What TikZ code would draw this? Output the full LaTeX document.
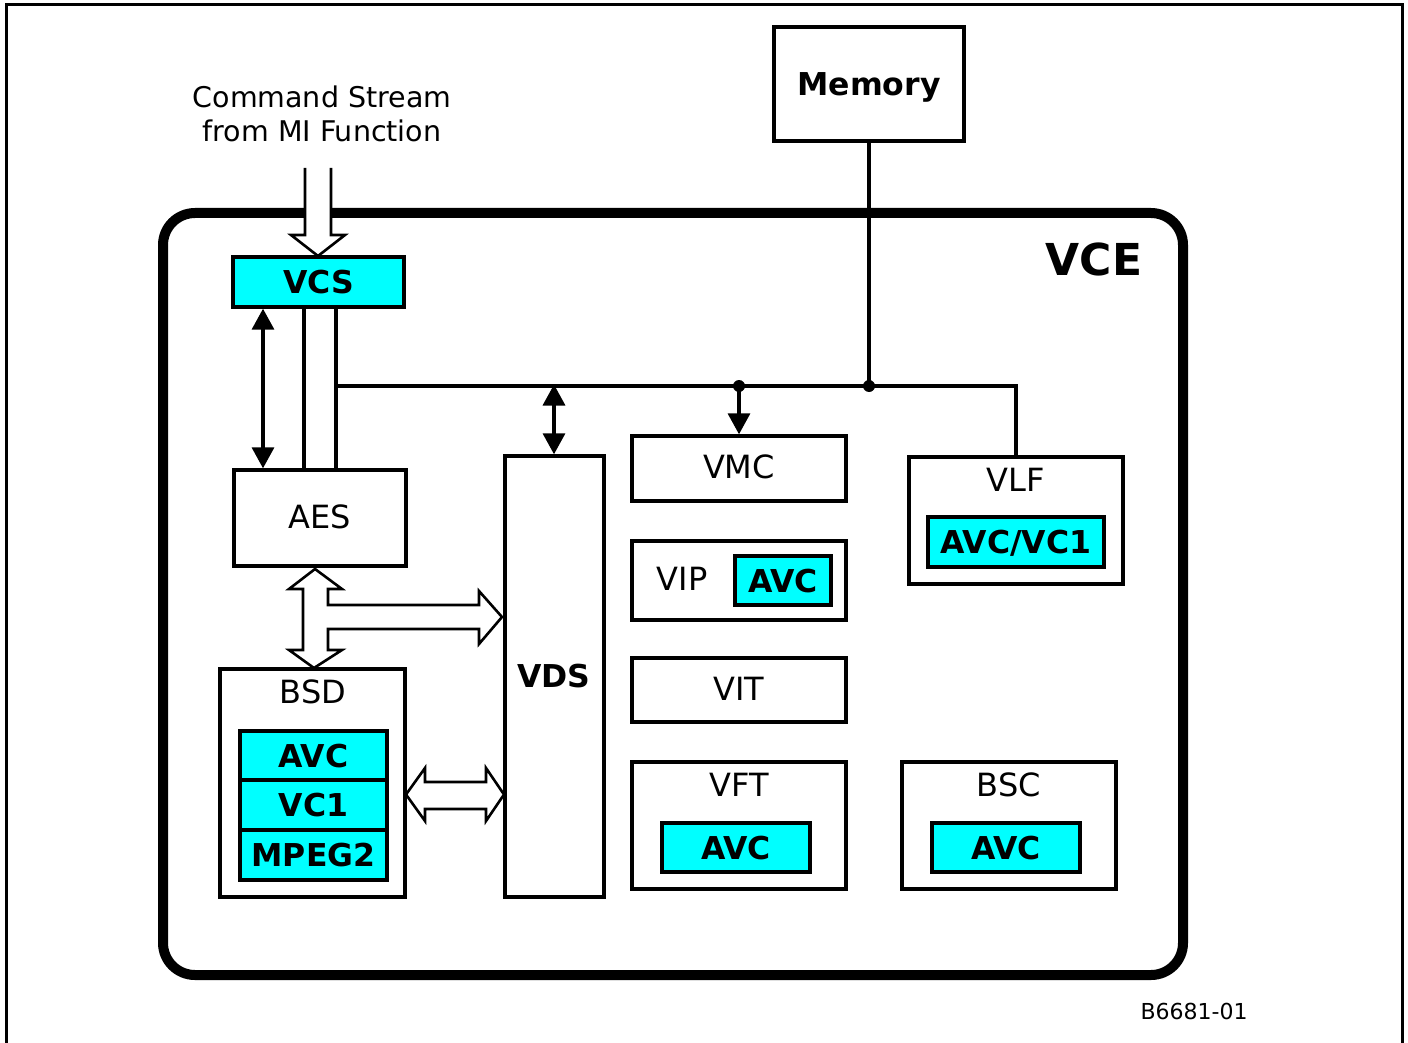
\documentclass[tikz,border=0pt]{standalone}
\usepackage{fontspec}
\setmainfont{DejaVu Sans}
\usetikzlibrary{arrows.meta}
\definecolor{vcyan}{RGB}{0,255,255}
\begin{document}
\begin{tikzpicture}[x=1pt,y=-1pt,
  box/.style={draw,line width=3.4pt,inner sep=0pt,fill=white},
  cybox/.style={box,fill=vcyan,font=\fontsize{31.5}{36}\selectfont\bfseries,text height=23pt,text depth=0pt},
  lbl/.style={font=\fontsize{32}{36}\selectfont,inner sep=0pt,text height=23.3pt,text depth=0pt},
  blbl/.style={font=\fontsize{31.5}{36}\selectfont\bfseries,inner sep=0pt,text height=23pt,text depth=0pt},
  conn/.style={line width=3.4pt},
  dbl/.style={conn,{Triangle[width=22pt,length=21pt]}-{Triangle[width=22pt,length=21pt]}},
  onearrow/.style={conn,-{Triangle[width=22pt,length=21pt]}},
  hollow/.style={line width=2.6pt,fill=white,line join=miter}
]
\useasboundingbox (0,0) rectangle (1408,1043);
% outer frame
\draw[line width=3pt] (6,1043) -- (6,5) -- (1402,5) -- (1402,1043);
% VCE container
\draw[line width=10pt,rounded corners=32pt] (163,213) rectangle (1183,975);
\node[font=\fontsize{44}{50}\selectfont\bfseries,inner sep=0pt,text height=32pt,text depth=0pt] (vce) at (1094,259) {VCE};

% command stream
\node[font=\fontsize{28.5}{34}\selectfont,inner sep=0pt,anchor=base] (cmd1) at (322,107.5) {Command Stream};
\node[font=\fontsize{28.5}{34}\selectfont,inner sep=0pt,anchor=base] (cmd2) at (322,141.5) {from MI Function};

% memory
\node[box,minimum width=190pt,minimum height=114pt,font=\fontsize{31.5}{36}\selectfont\bfseries,text height=23pt,text depth=0pt] (mem) at (869,84) {Memory};

% boxes
\node[cybox,minimum width=171pt,minimum height=50pt] (vcs) at (318.5,282) {VCS};
\node[box,minimum width=172pt,minimum height=96pt] (aes) at (320,518) {};
\node[lbl] (aeslbl) at (320,517) {AES};
\node[box,minimum width=99pt,minimum height=441pt] (vds) at (554.5,676.5) {};
\node[blbl] (vdslbl) at (554,676) {VDS};
\node[box,minimum width=214pt,minimum height=65pt] (vmc) at (739,468.5) {};
\node[lbl] (vmclbl) at (739,467) {VMC};
\node[box,minimum width=214pt,minimum height=79pt] (vip) at (739,580.5) {};
\node[lbl] (viplbl) at (682,579) {VIP};
\node[cybox,minimum width=96pt,minimum height=49pt] (vipavc) at (783,580.5) {AVC};
\node[box,minimum width=214pt,minimum height=64pt] (vit) at (739,690) {};
\node[lbl] (vitlbl) at (739,689) {VIT};
\node[box,minimum width=214pt,minimum height=127pt] (vft) at (739,825.5) {};
\node[lbl] (vftlbl) at (739,785) {VFT};
\node[cybox,minimum width=148pt,minimum height=49pt] (vftavc) at (736,847.5) {AVC};
\node[box,minimum width=214pt,minimum height=127pt] (bsc) at (1009,825.5) {};
\node[lbl] (bsclbl) at (1009,785) {BSC};
\node[cybox,minimum width=148pt,minimum height=49pt] (bscavc) at (1006,847.5) {AVC};
\node[box,minimum width=214pt,minimum height=127pt] (vlf) at (1016,520.5) {};
\node[lbl] (vlflbl) at (1016,480) {VLF};
\node[cybox,minimum width=176pt,minimum height=50pt] (vlfavc) at (1016,542) {AVC/VC1};
\node[box,minimum width=185pt,minimum height=228pt] (bsd) at (312.5,783) {};
\node[lbl] (bsdlbl) at (313,692) {BSD};
\node[cybox,minimum width=147pt,minimum height=49pt] (bsdavc) at (313.5,755.5) {AVC};
\node[cybox,minimum width=147pt,minimum height=50pt] (bsdvc1) at (313.5,805) {VC1};
\node[cybox,minimum width=147pt,minimum height=50pt] (bsdmpeg) at (313.5,855) {MPEG2};

% incoming hollow arrow
\fill[white] (305,168) -- (305,235) -- (291,235) -- (318,256) -- (345,235) -- (331,235) -- (331,168) -- cycle;
\draw[line width=2.6pt,line join=miter] (305,168) -- (305,235) -- (291,235) -- (318,256) -- (345,235) -- (331,235) -- (331,168);

% coordinates
\coordinate (xa) at (304,0);
\coordinate (xb) at (336,0);
\coordinate (xc) at (263,0);
\coordinate (jL) at (336,386);
\coordinate (jvds) at (554,386);
\coordinate (jvmc) at (739,386);
\coordinate (jmem) at (869,386);
\coordinate (jvlf) at (1016,386);

% connectors
\draw[conn] (vcs.south -| xa) -- (aes.north -| xa);
\draw[conn] (vcs.south -| xb) -- (aes.north -| xb);
\draw[conn] (jL) -- (jvlf) -- (vlf.north);
\draw[conn] (mem.south) -- (jmem);
\fill (jmem) circle (6pt);
\fill (jvmc) circle (6pt);
\draw[onearrow] (jvmc) -- (vmc.north);
\draw[dbl] ([yshift=1.5pt]jvds) -- (vds.north -| jvds);
\draw[dbl] (vcs.south -| xc) -- (aes.north -| xc);

% hollow T arrow AES <-> BSD -> VDS
\draw[hollow] (315,569) -- (342,589) -- (328,589) -- (328,605) -- (479,605) -- (479,591) -- (502,617) -- (479,644) -- (479,629) -- (328,629) -- (328,650) -- (342,650) -- (314,668) -- (289,650) -- (303,650) -- (303,589) -- (289,589) -- cycle;
% hollow double arrow BSD <-> VDS
\draw[hollow] (406,794.5) -- (425,768) -- (425,782) -- (486,782) -- (486,768) -- (504,794.5) -- (486,821) -- (486,809) -- (425,809) -- (425,821) -- cycle;

% figure id
\node[font=\fontsize{22}{26}\selectfont,inner sep=0pt] (figid) at (1194,1011) {B6681-01};
\end{tikzpicture}
\end{document}
